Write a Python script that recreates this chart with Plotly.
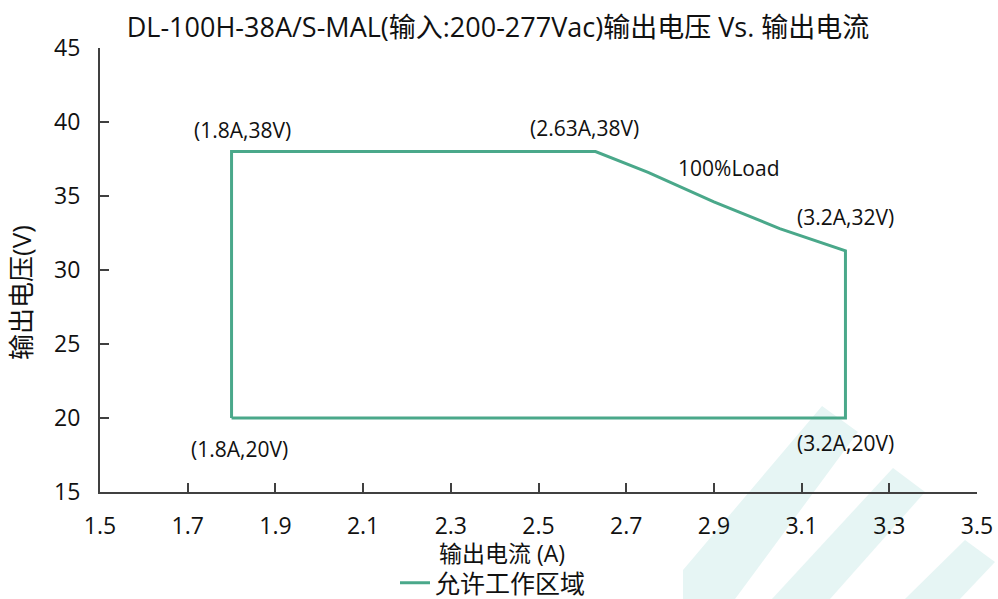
import plotly.graph_objects as go

# ---- data ----
current_a = [1.8, 1.8, 2.63, 2.75, 2.9, 3.05, 3.2, 3.2, 1.8]
voltage_v = [20, 38, 38, 36.6, 34.6, 32.8, 31.3, 20, 20]
series_name = "允许工作区域"

label_texts = ["(1.8A,38V)", "(2.63A,38V)", "100%Load", "(3.2A,32V)", "(1.8A,20V)", "(3.2A,20V)"]
label_x = [1.824, 2.604, 2.934, 3.201, 1.817, 3.199]
label_y = [39.46, 39.6, 36.9, 33.58, 17.9, 18.3]

x_ticks = [1.5, 1.7, 1.9, 2.1, 2.3, 2.5, 2.7, 2.9, 3.1, 3.3, 3.5]
y_ticks = [15, 20, 25, 30, 35, 40, 45]

title_text = "DL-100H-38A/S-MAL(输入:200-277Vac)输出电压 Vs. 输出电流"
x_title = "输出电流 (A)"
y_title = "输出电压(V)"

FONT = "Open Sans, Noto Sans CJK SC, sans-serif"
TXT = "#111111"
AX = "#404040"
LINE = "#4aa88a"
WM = "#e6f5f4"

W, H = 998, 599
# desired plot area in page pixels
X0, X1, Y0, Y1 = 100, 977, 48, 492
L, R, T, B = X0, W - X1, Y0, H - Y1
PW, PH = X1 - X0, Y1 - Y0


def px(xp):
    return (xp - X0) / PW


def py(yp):
    return (Y1 - yp) / PH


fig = go.Figure()
fig.add_trace(go.Scatter(
    x=current_a, y=voltage_v, mode="lines", name=series_name,
    line=dict(color=LINE, width=3), showlegend=True,
))

# watermark-like decoration (paper coords)
def band(pts):
    d = "M " + " L ".join(f"{px(a):.4f},{py(b):.4f}" for a, b in pts) + " Z"
    return dict(type="path", path=d, xref="paper", yref="paper",
                fillcolor=WM, line=dict(width=0), layer="below")

shapes = [
    band([(822, 406), (858, 432), (735, 599), (683, 599), (683, 570)]),
    band([(893, 468), (925, 492), (830, 599), (772, 599)]),
    band([(965, 540), (995, 562), (960, 599), (905, 599)]),
]

annotations = []
for t, xv, yv in zip(label_texts, label_x, label_y):
    annotations.append(dict(x=xv, y=yv, xref="x", yref="y", text=t, showarrow=False,
                            font=dict(family=FONT, size=21, color=TXT),
                            xanchor="center", yanchor="middle"))
annotations.append(dict(x=px(502), y=py(553), xref="paper", yref="paper", text=x_title,
                        showarrow=False, font=dict(family=FONT, size=23, color=TXT),
                        xanchor="center", yanchor="middle"))
annotations.append(dict(x=px(21), y=py(293), xref="paper", yref="paper", text=y_title,
                        showarrow=False, textangle=-90,
                        font=dict(family=FONT, size=26, color=TXT),
                        xanchor="center", yanchor="middle"))

fig.update_layout(
    width=W, height=H, autosize=False,
    margin=dict(l=L, r=R, t=T, b=B, pad=0, autoexpand=False),
    paper_bgcolor="white", plot_bgcolor="white",
    font=dict(family=FONT, color=TXT),
    title=dict(text=title_text, x=498 / W, xanchor="center",
               y=1 - 28 / H, yanchor="middle",
               font=dict(family=FONT, size=27, color=TXT)),
    shapes=shapes,
    annotations=annotations,
    showlegend=True,
    legend=dict(orientation="h", x=px(395), y=py(583), xanchor="left", yanchor="middle",
                font=dict(family=FONT, size=25, color=TXT), bgcolor="rgba(0,0,0,0)"),
    xaxis=dict(range=[1.5, 3.5], tickvals=x_ticks, ticktext=[f"{v:.1f}" for v in x_ticks],
               showgrid=False, zeroline=False, showline=True, linecolor=AX, linewidth=2,
               ticks="inside", ticklen=9, tickwidth=1.5, tickcolor=AX, automargin=False,
               tickfont=dict(family=FONT, size=23, color=TXT), ticklabelstandoff=12),
    yaxis=dict(range=[15, 45], tickvals=y_ticks, ticktext=[str(v) for v in y_ticks],
               showgrid=False, zeroline=False, showline=True, linecolor=AX, linewidth=2,
               ticks="inside", ticklen=9, tickwidth=1.5, tickcolor=AX, automargin=False,
               tickfont=dict(family=FONT, size=23, color=TXT), ticklabelstandoff=13),
)

fig.write_html(
    "out.html",
    config={"displayModeBar": False},
    post_script="document.body.style.margin='0';document.body.style.overflow='hidden';",
)
